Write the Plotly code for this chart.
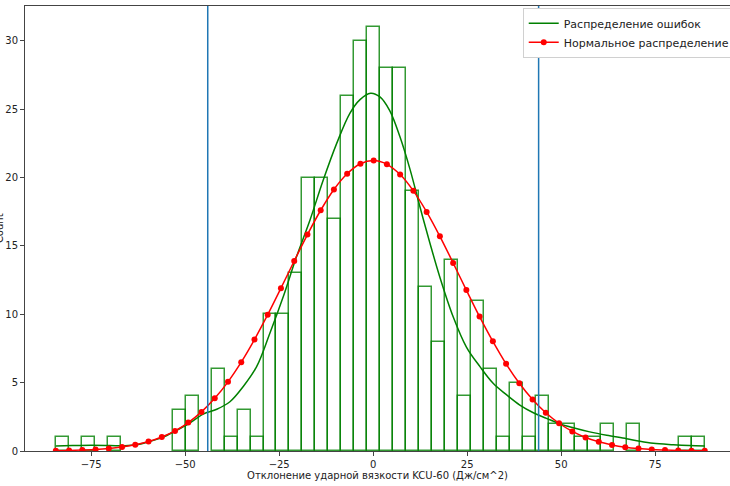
import plotly.graph_objects as go

# гистограмма отклонений (50 бинов)
bin_start = -84.4
bin_width = 3.452
counts = [1, 0, 1, 0, 1, 0, 0, 0, 0, 3,
          4, 0, 6, 1, 3, 1, 10, 10, 13, 20,
          20, 17, 26, 30, 31, 28, 28, 19, 12, 8,
          14, 4, 11, 6, 1, 5, 1, 4, 2, 2,
          1, 1, 2, 0, 2, 0, 0, 0, 1, 1]

# сглаженная оценка плотности
kde_x = [-84.4, -80, -75, -70, -66, -63, -60, -56, -52.7, -48.9,
         -45.2, -41.6, -38.1, -34.6, -31.0, -27.5, -23.9, -20.4, -16.8, -13.3,
         -9.7, -6.2, -3.5, -0.7, 1.8, 4.4, 7.1, 9.8, 12.4, 15.1,
         17.7, 21.3, 24.8, 28.4, 31.9, 35.5, 39.0, 42.6, 46.1, 49.7,
         53.2, 57.6, 62.1, 67.4, 70.9, 74.5, 79.8, 84.0, 88.2]
kde_y = [0.37, 0.40, 0.42, 0.40, 0.38, 0.45, 0.65, 1.0, 1.45, 2.03,
         2.7, 3.05, 3.6, 4.7, 6.17, 8.6, 11.3, 14.2, 16.9, 19.8,
         22.5, 24.7, 25.7, 26.17, 25.9, 24.9, 23.0, 20.6, 17.9, 15.2,
         12.75, 9.8, 7.6, 6.17, 4.95, 4.1, 3.36, 2.8, 2.39, 1.98,
         1.7, 1.4, 1.15, 0.9, 0.71, 0.56, 0.46, 0.40, 0.37]

# нормальное распределение (точки)
norm_x = [-84.4, -80.88, -77.36, -73.83, -70.31, -66.79, -63.27, -59.75, -56.22, -52.70,
          -49.18, -45.66, -42.14, -38.61, -35.09, -31.57, -28.05, -24.53, -21.00, -17.48,
          -13.96, -10.44, -6.92, -3.39, 0.13, 3.65, 7.17, 10.69, 14.22, 17.74,
          21.26, 24.78, 28.30, 31.83, 35.35, 38.87, 42.39, 45.91, 49.44, 52.96,
          56.48, 60.00, 63.52, 67.05, 70.57, 74.09, 77.61, 81.13, 84.66, 88.18]
norm_y = [0.02, 0.04, 0.07, 0.11, 0.18, 0.29, 0.45, 0.69, 1.02, 1.47,
          2.08, 2.86, 3.85, 5.06, 6.50, 8.15, 9.97, 11.91, 13.90, 15.83,
          17.61, 19.13, 20.28, 21.01, 21.24, 20.97, 20.22, 19.03, 17.49, 15.70,
          13.76, 11.77, 9.83, 8.02, 6.38, 4.96, 3.77, 2.80, 2.03, 1.43,
          0.99, 0.67, 0.44, 0.28, 0.18, 0.11, 0.07, 0.04, 0.02, 0.01]

# границы допуска
vline_x = [-44.0, 44.0]

x_ticks = [-75, -50, -25, 0, 25, 50, 75]
y_ticks = [0, 5, 10, 15, 20, 25, 30]

centers = [bin_start + bin_width * (i + 0.5) for i in range(len(counts))]
heights = [c if c > 0 else None for c in counts]

fig = go.Figure()

fig.add_trace(go.Bar(
    x=centers, y=heights, width=bin_width,
    marker=dict(color='rgba(0,0,0,0)', line=dict(color='rgba(0,128,0,0.8)', width=1.5)),
    showlegend=False, hoverinfo='skip'
))

fig.add_trace(go.Scatter(
    x=kde_x, y=kde_y, mode='lines', name='Распределение ошибок',
    line=dict(color='green', width=1.5, shape='spline')
))

fig.add_trace(go.Scatter(
    x=norm_x, y=norm_y, mode='lines+markers', name='Нормальное распределение',
    line=dict(color='red', width=1.5, shape='spline'),
    marker=dict(color='red', size=6)
))

for v in vline_x:
    fig.add_shape(type='line', x0=v, x1=v, y0=0, y1=1, xref='x', yref='paper',
                  line=dict(color='#1f77b4', width=1.5))

# подпись оси Y в оригинале почти срезана краем
fig.add_annotation(text='Count', xref='paper', yref='paper', x=-0.036, y=0.5,
                   textangle=-90, showarrow=False, xanchor='center', yanchor='middle',
                   font=dict(size=10, color='#222'))

fig.update_layout(
    width=730, height=486,
    margin=dict(l=25, r=0, t=6, b=35, autoexpand=False),
    plot_bgcolor='white', paper_bgcolor='white',
    font=dict(family='DejaVu Sans', size=10, color='#222'),
    bargap=0,
    legend=dict(x=0.706, y=0.996, xanchor='left', yanchor='top',
                bgcolor='white', bordercolor='#d0d0d0', borderwidth=1,
                font=dict(size=11, color='#222'), tracegroupgap=0, itemwidth=30),
    xaxis=dict(range=[-92.6, 94.9], tickvals=x_ticks, showgrid=False, zeroline=False,
               showline=True, linecolor='#444', linewidth=1, mirror=True,
               ticks='outside', ticklen=4, tickcolor='#444',
               title=dict(text='Отклонение ударной вязкости KCU-60 (Дж/см^2)',
                          font=dict(size=10), standoff=2)),
    yaxis=dict(range=[0, 32.55], tickvals=y_ticks, showgrid=False, zeroline=False,
               showline=True, linecolor='#444', linewidth=1,
               ticks='outside', ticklen=4, tickcolor='#444'),
)

# убираем стандартный отступ body, чтобы график начинался с левого верхнего угла
fig.write_html("out.html", config={'displayModeBar': False},
               post_script="document.body.style.margin='0';")
